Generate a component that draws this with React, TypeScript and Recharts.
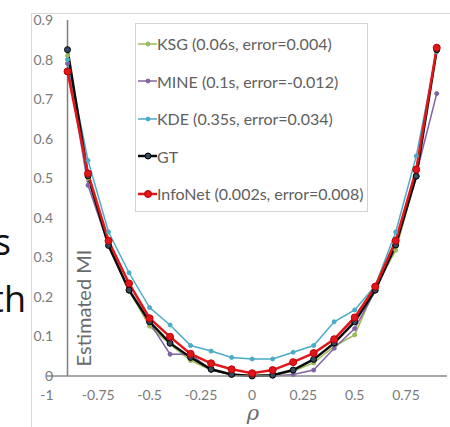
import React from 'react'
import { Legend, Line, LineChart, ReferenceLine, XAxis, YAxis } from 'recharts'

// rho values the estimators were run at
const RHO = [-0.9, -0.8, -0.7, -0.6, -0.5, -0.4, -0.3, -0.2, -0.1, 0, 0.1, 0.2, 0.3, 0.4, 0.5, 0.6, 0.7, 0.8, 0.9];

// estimated MI per rho
const KSG = [0.81, 0.5, 0.33, 0.215, 0.126, 0.08, 0.039, 0.015, 0.004, 0.002, 0.003, 0.012, 0.033, 0.075, 0.104, 0.222, 0.318, 0.505, 0.82];
const MINE = [0.79, 0.482, 0.33, 0.215, 0.135, 0.055, 0.055, 0.015, 0.003, 0.0, 0.0, 0.004, 0.015, 0.07, 0.12, 0.215, 0.33, 0.51, 0.714];
const KDE = [0.8, 0.545, 0.364, 0.261, 0.173, 0.129, 0.077, 0.063, 0.047, 0.043, 0.043, 0.06, 0.077, 0.137, 0.167, 0.228, 0.364, 0.556, 0.82];
const GT = [0.825, 0.506, 0.33, 0.217, 0.137, 0.083, 0.047, 0.017, 0.004, 0.0, 0.002, 0.015, 0.042, 0.083, 0.137, 0.217, 0.331, 0.505, 0.825];
const INFONET = [0.77, 0.512, 0.342, 0.234, 0.146, 0.099, 0.056, 0.032, 0.017, 0.007, 0.015, 0.035, 0.058, 0.093, 0.148, 0.226, 0.342, 0.522, 0.83];

const X_TICKS = [-1, -0.75, -0.5, -0.25, 0, 0.25, 0.5, 0.75];
const Y_TICKS = [0, 0.1, 0.2, 0.3, 0.4, 0.5, 0.6, 0.7, 0.8, 0.9];

const SERIES = [
    { key: 'ksg', name: 'KSG (0.06s, error=0.004)', values: KSG, color: '#9bbb59', width: 1.5, r: 2, dotFill: '#9bbb59', dotStroke: '#9bbb59' },
    { key: 'mine', name: 'MINE (0.1s, error=-0.012)', values: MINE, color: '#8064a2', width: 1.5, r: 2, dotFill: '#8064a2', dotStroke: '#8064a2' },
    { key: 'kde', name: 'KDE (0.35s, error=0.034)', values: KDE, color: '#4bacc6', width: 1.5, r: 2, dotFill: '#4bacc6', dotStroke: '#4bacc6' },
    { key: 'gt', name: 'GT', values: GT, color: '#0a0a0a', width: 2.5, r: 3, dotFill: '#34495e', dotStroke: '#000000' },
    { key: 'infonet', name: 'InfoNet (0.002s, error=0.008)', values: INFONET, color: '#e0161b', width: 2.5, r: 3.5, dotFill: '#e0161b', dotStroke: '#c00000' },
];

const data = RHO.map((rho, i) => {
    const row: any = { rho };
    SERIES.forEach(s => { row[s.key] = s.values[i]; });
    return row;
});

const FONT = 'Lato, "Open Sans", sans-serif';
const TICK_COLOR = '#7a7a7a';

const YTick = (props: any) => {
    const v = props.payload.value;
    return (
        <text x={53} y={props.y} dy={5} textAnchor="end" fill={TICK_COLOR} fontSize={14} fontFamily={FONT}>
            {v === 0 ? '0' : v.toFixed(1)}
        </text>
    );
};

const XTick = (props: any) => (
    <text x={props.x} y={props.y} dy={16} textAnchor="middle" fill={TICK_COLOR} fontSize={14} fontFamily={FONT}>
        {String(props.payload.value)}
    </text>
);

const renderLegend = () => (
    <div style={{ width: 233, height: 189, boxSizing: 'border-box', border: '1px solid #d4d4d4', background: '#fff', paddingTop: 1 }}>
        {SERIES.map(s => (
            <div key={s.key} style={{ height: 37.5, display: 'flex', alignItems: 'center' }}>
                <svg width={20} height={12} style={{ marginLeft: 1 }}>
                    <line x1={1} y1={6} x2={20} y2={6} stroke={s.color} strokeWidth={s.width} />
                    <circle cx={11} cy={6} r={s.r} fill={s.dotFill} stroke={s.dotStroke} strokeWidth={1} />
                </svg>
                <span style={{ fontFamily: FONT, fontSize: 16, color: '#606060', whiteSpace: 'nowrap' }}>{s.name}</span>
            </div>
        ))}
    </div>
);

export default function App() {
    return (
        <div style={{ position: 'absolute', left: 0, top: 0, width: 450, height: 427, overflow: 'hidden', background: '#fff' }}>
            <LineChart width={450} height={427} data={data} margin={{ top: 20, right: 3, bottom: 21, left: 0 }}>
                <XAxis
                    type="number"
                    dataKey="rho"
                    domain={[-1, 0.95]}
                    ticks={X_TICKS}
                    tickLine={false}
                    axisLine={{ stroke: '#8a8a8a', strokeWidth: 1.5 }}
                    tick={<XTick />}
                    height={30}
                />
                <YAxis
                    type="number"
                    domain={[0, 0.9]}
                    ticks={Y_TICKS}
                    width={47}
                    axisLine={false}
                    tickLine={false}
                    tick={<YTick />}
                />
                <ReferenceLine x={-0.9} stroke="#7f7f7f" strokeWidth={1.5} />
                <Legend
                    layout="horizontal"
                    verticalAlign="middle"
                    align="center"
                    content={renderLegend}
                    wrapperStyle={{ position: 'absolute', left: 135, top: 23, width: 233, height: 189 }}
                />
                {SERIES.map(s => (
                    <Line
                        key={s.key}
                        name={s.name}
                        dataKey={s.key}
                        type="linear"
                        stroke={s.color}
                        strokeWidth={s.width}
                        dot={{ r: s.r, fill: s.dotFill, stroke: s.dotStroke, strokeWidth: 1 }}
                        isAnimationActive={false}
                    />
                ))}
            </LineChart>
            <svg width={450} height={427} style={{ position: 'absolute', left: 0, top: 0, pointerEvents: 'none' }}>
                <rect x={31.5} y={13.5} width={440} height={440} fill="none" stroke="#d9d9d9" strokeWidth={1} />
                <text x={11} y={255} textAnchor="end" fontSize={36} fontFamily='"Open Sans", sans-serif' fill="#111">s</text>
                <text x={26} y={312} textAnchor="end" fontSize={36} fontFamily='"Open Sans", sans-serif' fill="#111">th</text>
                <text transform="translate(91, 308) rotate(-90)" textAnchor="middle" fontSize={20} fontFamily={FONT} fill="#6a6a6a">Estimated MI</text>
                <text x={253} y={420} textAnchor="middle" fontSize={21} fontStyle="italic" fontFamily='"DejaVu Serif", serif' fill="#6a6a6a">ρ</text>
            </svg>
        </div>
    );
}
